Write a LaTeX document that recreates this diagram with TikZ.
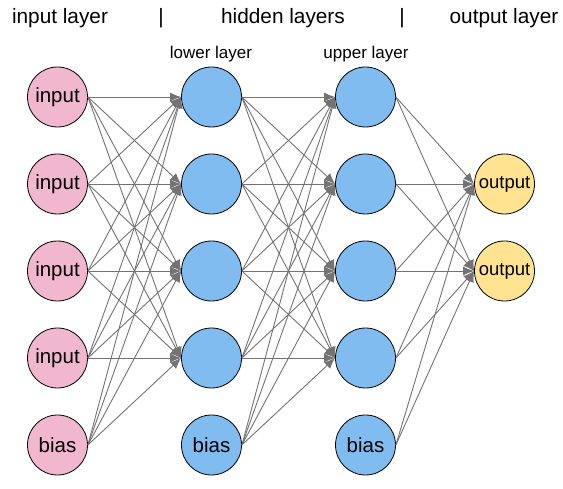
\documentclass[tikz,border=0pt]{standalone}
\usepackage{fontspec}
\setmainfont{Liberation Sans}
\usetikzlibrary{arrows.meta}
\definecolor{inpink}{RGB}{241,183,206}
\definecolor{hidblue}{RGB}{129,188,240}
\definecolor{outyellow}{RGB}{255,227,145}
\definecolor{edgegrey}{RGB}{115,115,115}
\begin{document}
\begin{tikzpicture}[x=1pt,y=-1pt,
  neuron/.style={circle,draw=black,line width=0.8pt,minimum size=60pt,inner sep=0pt,font=\fontsize{20.5}{24}\selectfont},
  inneuron/.style={neuron,fill=inpink},
  hidneuron/.style={neuron,fill=hidblue},
  outneuron/.style={neuron,fill=outyellow,font=\fontsize{18.5}{22}\selectfont},
  header/.style={font=\fontsize{20.8}{24}\selectfont,inner sep=0pt},
  sublabel/.style={font=\fontsize{17}{20}\selectfont,inner sep=0pt},
  conn/.style={draw=edgegrey,line width=0.9pt,-{Latex[length=11pt,width=9pt]}}]
\useasboundingbox (0,0) rectangle (563,489);
% headers
\node[header] (h1) at (60,18) {input layer};
\node[header] (s1) at (161,18) {|};
\node[header] (h2) at (283,18) {hidden layers};
\node[header] (s2) at (402,18) {|};
\node[header] (h3) at (504,18) {output layer};
\node[sublabel] (ll) at (211,54) {lower layer};
\node[sublabel] (ul) at (366,54) {upper layer};
% input layer
\node[inneuron] (i1) at (57.5,97) {input};
\node[inneuron] (i2) at (57.5,184) {input};
\node[inneuron] (i3) at (57.5,271) {input};
\node[inneuron] (i4) at (57.5,358) {input};
\node[inneuron] (i5) at (57.5,445) {bias};
% lower layer
\node[hidneuron] (l1) at (211.5,97) {};
\node[hidneuron] (l2) at (211.5,184) {};
\node[hidneuron] (l3) at (211.5,271) {};
\node[hidneuron] (l4) at (211.5,358) {};
\node[hidneuron] (l5) at (211.5,445) {bias};
% upper layer
\node[hidneuron] (u1) at (365.5,97) {};
\node[hidneuron] (u2) at (365.5,184) {};
\node[hidneuron] (u3) at (365.5,271) {};
\node[hidneuron] (u4) at (365.5,358) {};
\node[hidneuron] (u5) at (365.5,445) {bias};
% output layer
\node[outneuron] (o1) at (504.5,184) {output};
\node[outneuron] (o2) at (504.5,271) {output};
% connections
\foreach \s in {1,...,5}{
  \foreach \t in {1,...,4}{
    \draw[conn] (i\s.east) -- (l\t.west);
    \draw[conn] (l\s.east) -- (u\t.west);
  }
  \foreach \t in {1,2}{
    \draw[conn] (u\s.east) -- (o\t.west);
  }
}
\end{tikzpicture}
\end{document}
